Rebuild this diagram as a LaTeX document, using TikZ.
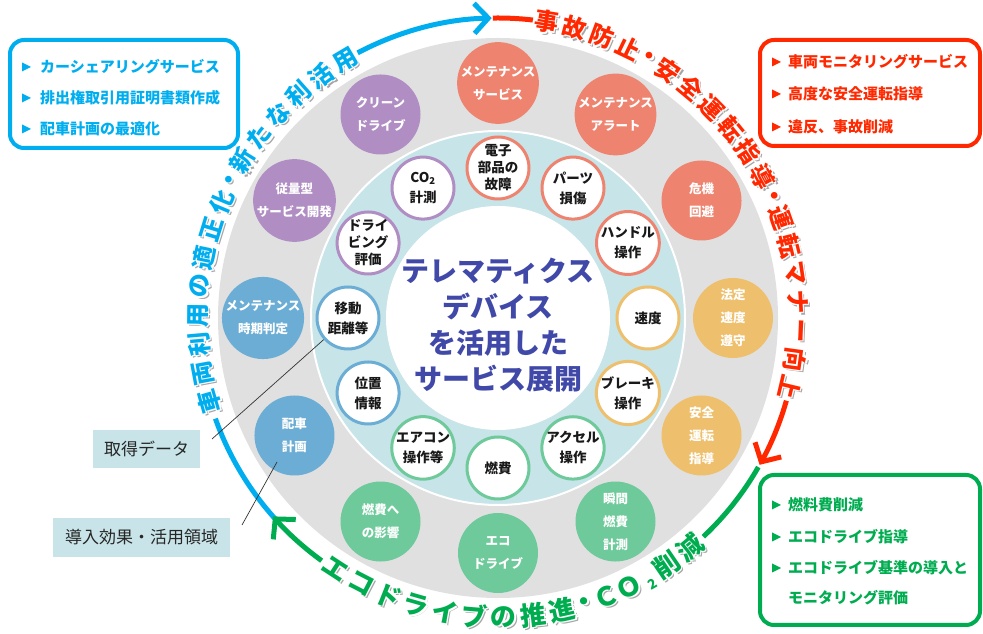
\documentclass[tikz,border=0pt]{standalone}
\usepackage{fontspec}
\setmainfont{Noto Sans CJK JP}
\usetikzlibrary{arrows.meta,calc}
\definecolor{cBlue}{RGB}{0,174,239}
\definecolor{cRed}{RGB}{255,40,0}
\definecolor{cGreen}{RGB}{0,172,80}
\definecolor{gBg}{RGB}{224,224,224}
\definecolor{lBlue}{RGB}{199,228,232}
\definecolor{salm}{RGB}{238,132,112}
\definecolor{yel}{RGB}{238,192,110}
\definecolor{grn}{RGB}{110,202,155}
\definecolor{blu}{RGB}{107,173,212}
\definecolor{pur}{RGB}{176,142,196}
\definecolor{mainT}{RGB}{64,72,168}
\definecolor{lab}{RGB}{200,228,232}
\begin{document}
\begin{tikzpicture}[x=1pt,y=1pt,
  outer/.style={circle,minimum size=80pt,inner sep=0pt,fill=#1,text=white,align=center,font=\bfseries\fontsize{12.5}{23}\selectfont},
  innerc/.style={circle,minimum size=62pt,inner sep=0pt,draw=#1,line width=3pt,fill=white,text=black!90,align=center,font=\bfseries\fontsize{13.5}{20}\selectfont},
  tight/.style={font=\bfseries\fontsize{13.5}{17}\selectfont},
  arcT/.style={inner sep=0pt,font=\bfseries\fontsize{24}{24}\selectfont},
  arcG/.style={inner sep=0pt,font=\bfseries\fontsize{26}{26}\selectfont},
  arcline/.style={line width=5pt},
  tipb/.style={-{Straight Barb[length=14pt,width=30pt]}},
  listbox/.style={draw=#1,line width=4pt,rounded corners=14pt,inner sep=0pt},
  listtxt/.style={anchor=west,inner sep=0pt,text=#1,font=\bfseries\fontsize{15}{15}\selectfont},
  labbox/.style={fill=lab,inner sep=0pt,text=black!85,font=\fontsize{17}{17}\selectfont},
  conn/.style={draw=black!80,line width=0.7pt}
]
\useasboundingbox (0,0) rectangle (983,634);

\begin{scope}[shift={(498,316)}]
  \fill[gBg] (0,0) circle[radius=280];
  \filldraw[fill=lBlue,draw=white,line width=2pt] (0,0) circle[radius=187];
  \fill[white] (0,0) circle[radius=112];

  % outer ring
  \node[outer=salm] (o1) at (90:235) {メンテナンス\\サービス};
  \node[outer=salm] (o2) at (60:235) {メンテナンス\\アラート};
  \node[outer=salm] (o3) at (30:235) {危機\\回避};
  \node[outer=yel] (o4) at (0:235) {法定\\速度\\遵守};
  \node[outer=yel] (o5) at (-30:235) {安全\\運転\\指導};
  \node[outer=grn] (o6) at (-60:235) {瞬間\\燃費\\計測};
  \node[outer=grn] (o7) at (-90:235) {エコ\\ドライブ};
  \node[outer=grn] (o8) at (-120:235) {燃費へ\\の影響};
  \node[outer=blu] (o9) at (-150:235) {配車\\計画};
  \node[outer=blu] (o10) at (180:235) {メンテナンス\\時期判定};
  \node[outer=pur] (o11) at (150:235) {従量型\\サービス開発};
  \node[outer=pur] (o12) at (120:235) {クリーン\\ドライブ};

  % inner ring
  \node[innerc=salm,tight] (i1) at (90:150) {電子\\部品の\\故障};
  \node[innerc=salm] (i2) at (60:150) {パーツ\\損傷};
  \node[innerc=salm] (i3) at (30:150) {ハンドル\\操作};
  \node[innerc=yel] (i4) at (0:150) {速度};
  \node[innerc=yel] (i5) at (-30:150) {ブレーキ\\操作};
  \node[innerc=grn] (i6) at (-60:150) {アクセル\\操作};
  \node[innerc=grn] (i7) at (-90:150) {燃費};
  \node[innerc=grn] (i8) at (-120:150) {エアコン\\操作等};
  \node[innerc=blu] (i9) at (-150:150) {位置\\情報};
  \node[innerc=blu] (i10) at (180:150) {移動\\距離等};
  \node[innerc=pur,tight] (i11) at (150:150) {ドライ\\ビング\\評価};
  \node[innerc=pur] (i12) at (120:150) {CO\textsubscript{2}\\計測};

  % centre text
  \node[align=center,text=mainT,font=\bfseries\fontsize{28}{36}\selectfont] (ctr) at (0,-7)
    {テレマティクス\\デバイス\\を活用した\\サービス展開};

  % arc lines
  \draw[cBlue,arcline] (223:300) arc[start angle=223,end angle=199.6,radius=300];
  \draw[cBlue,arcline,tipb] (117.9:300) arc[start angle=117.9,end angle=91.2,radius=300];
  \draw[cRed,arcline] (91:300) arc[start angle=91,end angle=83.3,radius=300];
  \draw[cRed,arcline,tipb] (-16:300) arc[start angle=-16,end angle=-29.3,radius=300];
  \draw[cGreen,arcline] (-29.8:300) arc[start angle=-29.8,end angle=-46.8,radius=300];
  \draw[cGreen,arcline,tipb] (234:300) arc[start angle=234,end angle=221.4,radius=300];

  % blue arc text
  \foreach \c/\a [count=\i] in {車/196.1,両/190.55,利/185.0,用/179.45,の/173.9,適/168.35,正/162.8,化/157.25,・/152.81,新/148.37,た/142.82,な/137.27,利/131.72,活/126.17,用/120.62}{
    \node[arcT,text=black!35,rotate=\a-90] at ($(\a:300)+(2.4,-2.4)$) {\c};
    \foreach \dx/\dy in {1.3/1.3,-1.3/1.3,1.3/-1.3,-1.3/-1.3}
      \node[arcT,text=white,rotate=\a-90] at ($(\a:300)+(\dx,\dy)$) {\c};
    \node[arcT,text=cBlue,rotate=\a-90] (bt\i) at (\a:300) {\c};
  }
  % red arc text
  \foreach \c/\a [count=\i] in {事/80.7,故/75.23,防/69.76,止/64.29,・/59.91,安/55.54,全/50.07,運/44.6,転/39.13,指/33.66,導/28.19,・/23.81,運/19.44,転/13.97,マ/8.5,ナ/3.03,ー/-2.44,向/-7.91,上/-13.38}{
    \node[arcT,text=black!35,rotate=\a-90] at ($(\a:300)+(2.4,-2.4)$) {\c};
    \foreach \dx/\dy in {1.3/1.3,-1.3/1.3,1.3/-1.3,-1.3/-1.3}
      \node[arcT,text=white,rotate=\a-90] at ($(\a:300)+(\dx,\dy)$) {\c};
    \node[arcT,text=cRed,rotate=\a-90] (rt\i) at (\a:300) {\c};
  }
  % green arc text
  \foreach \c/\a [count=\i] in {エ/237,コ/242.68,ド/248.36,ラ/254.04,イ/259.72,ブ/265.4,の/271.08,推/276.76,進/282.44,・/286.98,Ｃ/291.1,Ｏ/296.07,削/304.3,減/309.99}{
    \node[arcG,text=black!35,rotate=\a+90] at ($(\a:299)+(2.2,-2.2)$) {\c};
    \foreach \dx/\dy in {1.3/1.3,-1.3/1.3,1.3/-1.3,-1.3/-1.3}
      \node[arcG,text=white,rotate=\a+90] at ($(\a:299)+(\dx,\dy)$) {\c};
    \node[arcG,text=cGreen,rotate=\a+90] (gt\i) at (\a:299) {\c};
  }
  \node[inner sep=0pt,font=\bfseries\fontsize{13.5}{13.5}\selectfont,text=cGreen,rotate=390.05] (gsub) at (300.05:308) {2};
\end{scope}

% connectors
\coordinate (c1) at (212,195);
\coordinate (c2) at (242,109);
\coordinate (c3) at (277,172);
\draw[conn] (c1) -- (i10);
\draw[conn] (c2) -- (c3);

% label boxes
\node[labbox,minimum width=107pt,minimum height=38pt] (lab1) at (146.5,185) {取得データ};
\node[labbox,minimum width=177pt,minimum height=39pt] (lab2) at (141.5,96.5) {導入効果・活用領域};

% list boxes
\node[listbox=cBlue,minimum width=228pt,minimum height=108pt] (bbox) at (124,540) {};
\node[listbox=cRed,minimum width=220pt,minimum height=106pt] (rbox) at (870,541) {};
\node[listbox=cGreen,minimum width=220pt,minimum height=150pt] (gbox) at (870,84) {};

\foreach \y in {567,536,505}{\fill[cBlue] (22,\y+4.5) -- (31,\y) -- (22,\y-4.5) -- cycle;}
\node[listtxt=cBlue] (bl1) at (40,567) {カーシェアリングサービス};
\node[listtxt=cBlue] (bl2) at (40,536) {排出権取引用証明書類作成};
\node[listtxt=cBlue] (bl3) at (40,505) {配車計画の最適化};

\foreach \y in {572,540,507}{\fill[cRed] (772,\y+4.5) -- (781,\y) -- (772,\y-4.5) -- cycle;}
\node[listtxt=cRed] (rl1) at (788,572) {車両モニタリングサービス};
\node[listtxt=cRed] (rl2) at (788,540) {高度な安全運転指導};
\node[listtxt=cRed] (rl3) at (788,507) {違反、事故削減};

\foreach \y in {129,97,66}{\fill[cGreen] (772,\y+4.5) -- (781,\y) -- (772,\y-4.5) -- cycle;}
\node[listtxt=cGreen] (gl1) at (788,129) {燃料費削減};
\node[listtxt=cGreen] (gl2) at (788,97) {エコドライブ指導};
\node[listtxt=cGreen] (gl3) at (788,66) {エコドライブ基準の導入と};
\node[listtxt=cGreen] (gl4) at (788,36) {モニタリング評価};
\end{tikzpicture}
\end{document}
